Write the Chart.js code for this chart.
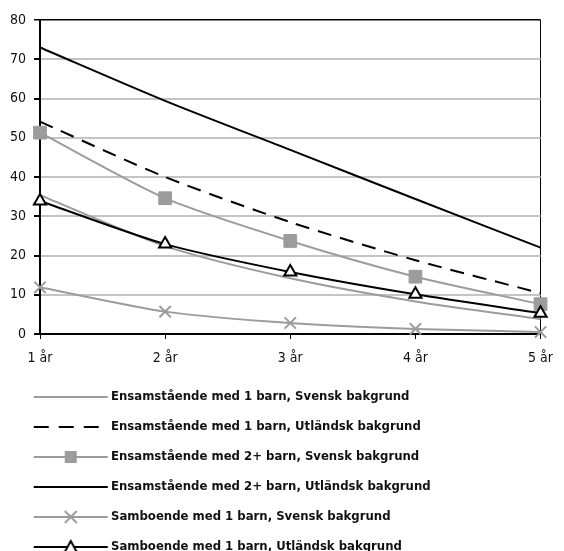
<!DOCTYPE html>
<html>
<head>
<meta charset="utf-8">
<script src="https://cdn.jsdelivr.net/npm/chart.js@4/dist/chart.umd.min.js"></script>
<style>
  html, body { margin: 0; padding: 0; background: #fff; }
</style>
</head>
<body>
<canvas id="chart" width="564" height="551"></canvas>
<script>
// Categories (years after separation)
const years = ['1 år', '2 år', '3 år', '4 år', '5 år'];

// Series names
const seriesNames = [
  'Ensamstående med 1 barn, Svensk bakgrund',
  'Ensamstående med 1 barn, Utländsk bakgrund',
  'Ensamstående med 2+ barn, Svensk bakgrund',
  'Ensamstående med 2+ barn, Utländsk bakgrund',
  'Samboende med 1 barn, Svensk bakgrund',
  'Samboende med 1 barn, Utländsk bakgrund'
];

// Values
const ensam1Svensk = [35.4, 22.4, 14.2, 8.3, 3.8];
const ensam1Utl    = [54.1, 40.0, 28.5, 18.8, 10.4];
const ensam2Svensk = [51.3, 34.6, 23.7, 14.6, 7.6];
const ensam2Utl    = [73.0, 59.4, 46.9, 34.4, 22.0];
const sambo1Svensk = [11.9, 5.7, 2.8, 1.3, 0.5];
const sambo1Utl    = [33.9, 22.9, 15.8, 10.1, 5.3];

// Y axis ticks
const yTicks = [0, 10, 20, 30, 40, 50, 60, 70, 80];

const GRAY = '#9c9c9c';
const BLACK = '#000000';
const FONT = "'Liberation Sans Narrow', 'DejaVu Sans Condensed', 'Arial Narrow', sans-serif";

// small canvas used as legend symbol: line + optional marker
function legendIcon(color, dash, marker) {
  const c = document.createElement('canvas');
  c.width = 104;
  c.height = 20;
  const g = c.getContext('2d');
  g.strokeStyle = color;
  g.lineWidth = 2;
  g.setLineDash(dash || []);
  g.beginPath();
  g.moveTo(25, 10);
  g.lineTo(99, 10);
  g.stroke();
  g.setLineDash([]);
  const mx = 62, my = 10;
  if (marker === 'rect') {
    g.fillStyle = color;
    g.fillRect(mx - 6, my - 6, 12, 12);
  } else if (marker === 'cross') {
    g.beginPath();
    g.moveTo(mx - 6, my - 6); g.lineTo(mx + 6, my + 6);
    g.moveTo(mx + 6, my - 6); g.lineTo(mx - 6, my + 6);
    g.stroke();
  } else if (marker === 'triangle') {
    g.fillStyle = '#fff';
    g.beginPath();
    g.moveTo(mx, my - 6);
    g.lineTo(mx + 6, my + 5);
    g.lineTo(mx - 6, my + 5);
    g.closePath();
    g.fill();
    g.stroke();
  }
  return c;
}

const icons = [
  legendIcon(GRAY, null, null),
  legendIcon(BLACK, [15, 10], null),
  legendIcon(GRAY, null, 'rect'),
  legendIcon(BLACK, null, null),
  legendIcon(GRAY, null, 'cross'),
  legendIcon(BLACK, null, 'triangle')
];

const common = {
  fill: false,
  borderWidth: 2,
  tension: 0.25,
  clip: false
};

const config = {
  type: 'line',
  data: {
    labels: years,
    datasets: [
      Object.assign({}, common, {
        label: seriesNames[0], data: ensam1Svensk,
        borderColor: GRAY, pointRadius: 0, order: 6
      }),
      Object.assign({}, common, {
        label: seriesNames[1], data: ensam1Utl,
        borderColor: BLACK, borderDash: [14, 9], pointRadius: 0, order: 5
      }),
      Object.assign({}, common, {
        label: seriesNames[2], data: ensam2Svensk,
        borderColor: GRAY, pointStyle: 'rect', pointRadius: 9,
        pointBackgroundColor: GRAY, pointBorderColor: GRAY, pointBorderWidth: 1, order: 4
      }),
      Object.assign({}, common, {
        label: seriesNames[3], data: ensam2Utl,
        borderColor: BLACK, pointRadius: 0, order: 3
      }),
      Object.assign({}, common, {
        label: seriesNames[4], data: sambo1Svensk,
        borderColor: GRAY, pointStyle: 'crossRot', pointRadius: 8,
        pointBorderColor: GRAY, pointBorderWidth: 2, order: 2
      }),
      Object.assign({}, common, {
        label: seriesNames[5], data: sambo1Utl,
        borderColor: BLACK, pointStyle: 'triangle', pointRadius: 7,
        pointBackgroundColor: '#fff', pointBorderColor: BLACK, pointBorderWidth: 2, order: 1
      })
    ]
  },
  options: {
    responsive: false,
    animation: false,
    layout: { padding: { top: 20, right: 12, left: 0, bottom: -12.5 } },
    plugins: {
      tooltip: { enabled: false },
      legend: {
        position: 'bottom',
        align: 'start',
        labels: {
          usePointStyle: true,
          pointStyleWidth: 87.5,
          padding: 17,
          color: '#111',
          font: { family: FONT, size: 13, weight: 'bold' },
          sort: (a, b) => a.datasetIndex - b.datasetIndex,
          generateLabels(chart) {
            const items = Chart.defaults.plugins.legend.labels.generateLabels(chart);
            items.forEach((it) => { it.pointStyle = icons[it.datasetIndex]; });
            return items;
          }
        }
      }
    },
    scales: {
      x: {
        afterFit(scale) { scale.height = 39.5; },
        grid: {
          drawOnChartArea: true,
          color: (ctx) => ctx.index === years.length - 1 ? BLACK : 'rgba(0,0,0,0)',
          lineWidth: 1,
          tickColor: BLACK,
          tickLength: 5
        },
        border: { display: true, color: BLACK, width: 2 },
        ticks: {
          color: '#111',
          padding: 11,
          maxRotation: 0,
          font: { family: FONT, size: 14 }
        }
      },
      y: {
        min: 0,
        max: 80,
        afterFit(scale) { scale.width = 40; },
        afterBuildTicks(scale) { scale.ticks = yTicks.map(v => ({ value: v })); },
        grid: {
          color: (ctx) => {
            if (ctx.tick.value === 80) return BLACK;
            if (ctx.tick.value === 0) return 'rgba(0,0,0,0)';
            return '#c4c4c4';
          },
          lineWidth: (ctx) => ctx.tick.value === 80 ? 1.5 : 2,
          tickColor: BLACK,
          tickLength: 6
        },
        border: { display: true, color: BLACK, width: 2 },
        ticks: {
          color: '#111',
          padding: 8,
          font: { family: FONT, size: 14 }
        }
      }
    }
  }
};

document.addEventListener('DOMContentLoaded', function () {
  new Chart(document.getElementById('chart').getContext('2d'), config);
});
</script>
</body>
</html>
